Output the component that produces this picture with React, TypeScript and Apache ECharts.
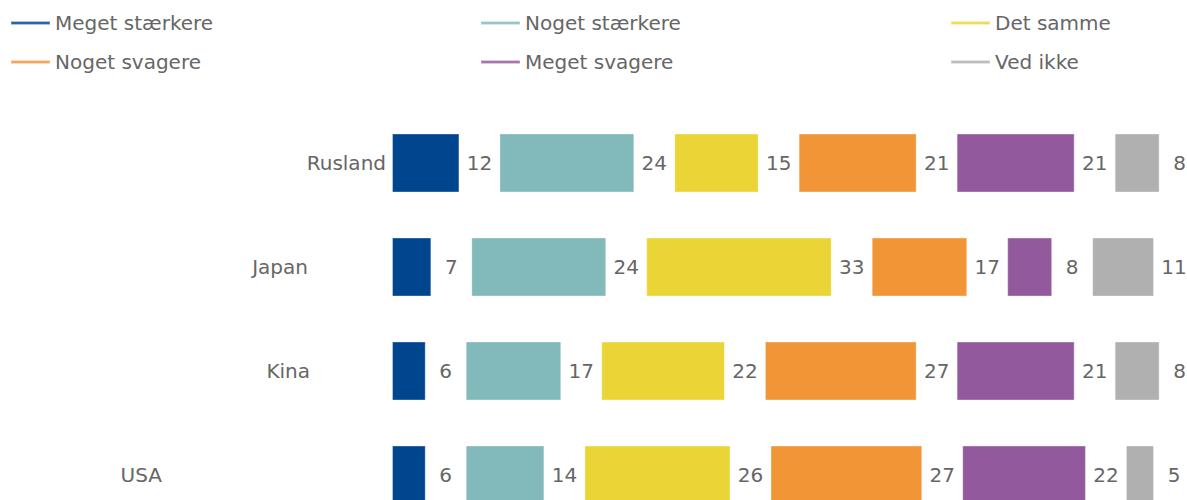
import React, { useEffect, useRef } from "react";
import * as echarts from "echarts";

const categories = ["Rusland", "Japan", "Kina", "USA"];
const seriesNames = [
  "Meget stærkere",
  "Noget stærkere",
  "Det samme",
  "Noget svagere",
  "Meget svagere",
  "Ved ikke",
];
const megetStaerkere = [12, 7, 6, 6];
const nogetStaerkere = [24, 24, 17, 14];
const detSamme = [15, 33, 22, 26];
const nogetSvagere = [21, 17, 27, 27];
const megetSvagere = [21, 8, 21, 22];
const vedIkke = [8, 11, 8, 5];
const values = [megetStaerkere, nogetStaerkere, detSamme, nogetSvagere, megetSvagere, vedIkke];
const colors = ["#00468F", "#82BABB", "#EBD436", "#F19537", "#92599D", "#B0B0B0"];

const X_MAX = 150;
const GRID_WIDTH = 843;
const GAP_PX = 40;
const GAP = (GAP_PX * X_MAX) / GRID_WIDTH;
const labelPads = [0, 78, 76, 224];
const FONT = "'DejaVu Sans', Verdana, sans-serif";
const TEXT = "#666666";
const FS = 20;

export default function App() {
  const ref = useRef<HTMLDivElement>(null);
  useEffect(() => {
    if (!ref.current) return;
    const chart = echarts.init(ref.current, undefined, { renderer: "svg" });
    const series: any[] = [];
    values.forEach((vals, k) => {
      series.push({
        name: seriesNames[k],
        type: "bar",
        stack: "total",
        barWidth: 59,
        data: vals,
        itemStyle: { color: colors[k], borderColor: "rgba(255,255,255,0.35)", borderWidth: 1 },
        silent: true,
      });
      series.push({
        name: "gap" + k,
        type: "bar",
        stack: "total",
        barWidth: 59,
        data: vals.map(() => GAP),
        itemStyle: { color: "rgba(0,0,0,0)" },
        silent: true,
        label: {
          show: true,
          position: "inside",
          color: TEXT,
          fontSize: FS,
          fontFamily: FONT,
          formatter: (p: any) => String(vals[p.dataIndex]),
        },
      });
    });
    const rich: any = {};
    labelPads.forEach((p, i) => {
      rich["c" + i] = { color: TEXT, fontSize: FS, fontFamily: FONT, padding: [0, p, 0, 0] };
    });
    const legendCommon = {
      orient: "vertical",
      top: 13,
      padding: 0,
      icon: "rect",
      itemWidth: 39,
      itemHeight: 3,
      itemGap: 19,
      textStyle: { color: TEXT, fontSize: FS, fontFamily: FONT, lineHeight: 20 },
    };
    chart.setOption({
      animation: false,
      color: colors,
      legend: [
        { ...legendCommon, left: 10, data: [seriesNames[0], seriesNames[3]] },
        { ...legendCommon, left: 480, data: [seriesNames[1], seriesNames[4]] },
        { ...legendCommon, left: 950, data: [seriesNames[2], seriesNames[5]] },
      ],
      grid: { left: 392, top: 111, width: GRID_WIDTH, height: 416, containLabel: false },
      xAxis: { type: "value", min: 0, max: X_MAX, show: false },
      yAxis: {
        type: "category",
        data: categories,
        inverse: true,
        axisLine: { show: false },
        axisTick: { show: false },
        splitLine: { show: false },
        axisLabel: {
          margin: 6,
          formatter: (v: string, i: number) => `{c${i}|${v}}`,
          rich,
        },
      },
      series,
    });
    return () => chart.dispose();
  }, []);
  return (
    <div
      style={{
        position: "fixed",
        left: 0,
        top: 0,
        width: 1187,
        height: 500,
        overflow: "hidden",
        background: "#fff",
      }}
    >
      <div ref={ref} style={{ width: 1260, height: 560 }} />
    </div>
  );
}
